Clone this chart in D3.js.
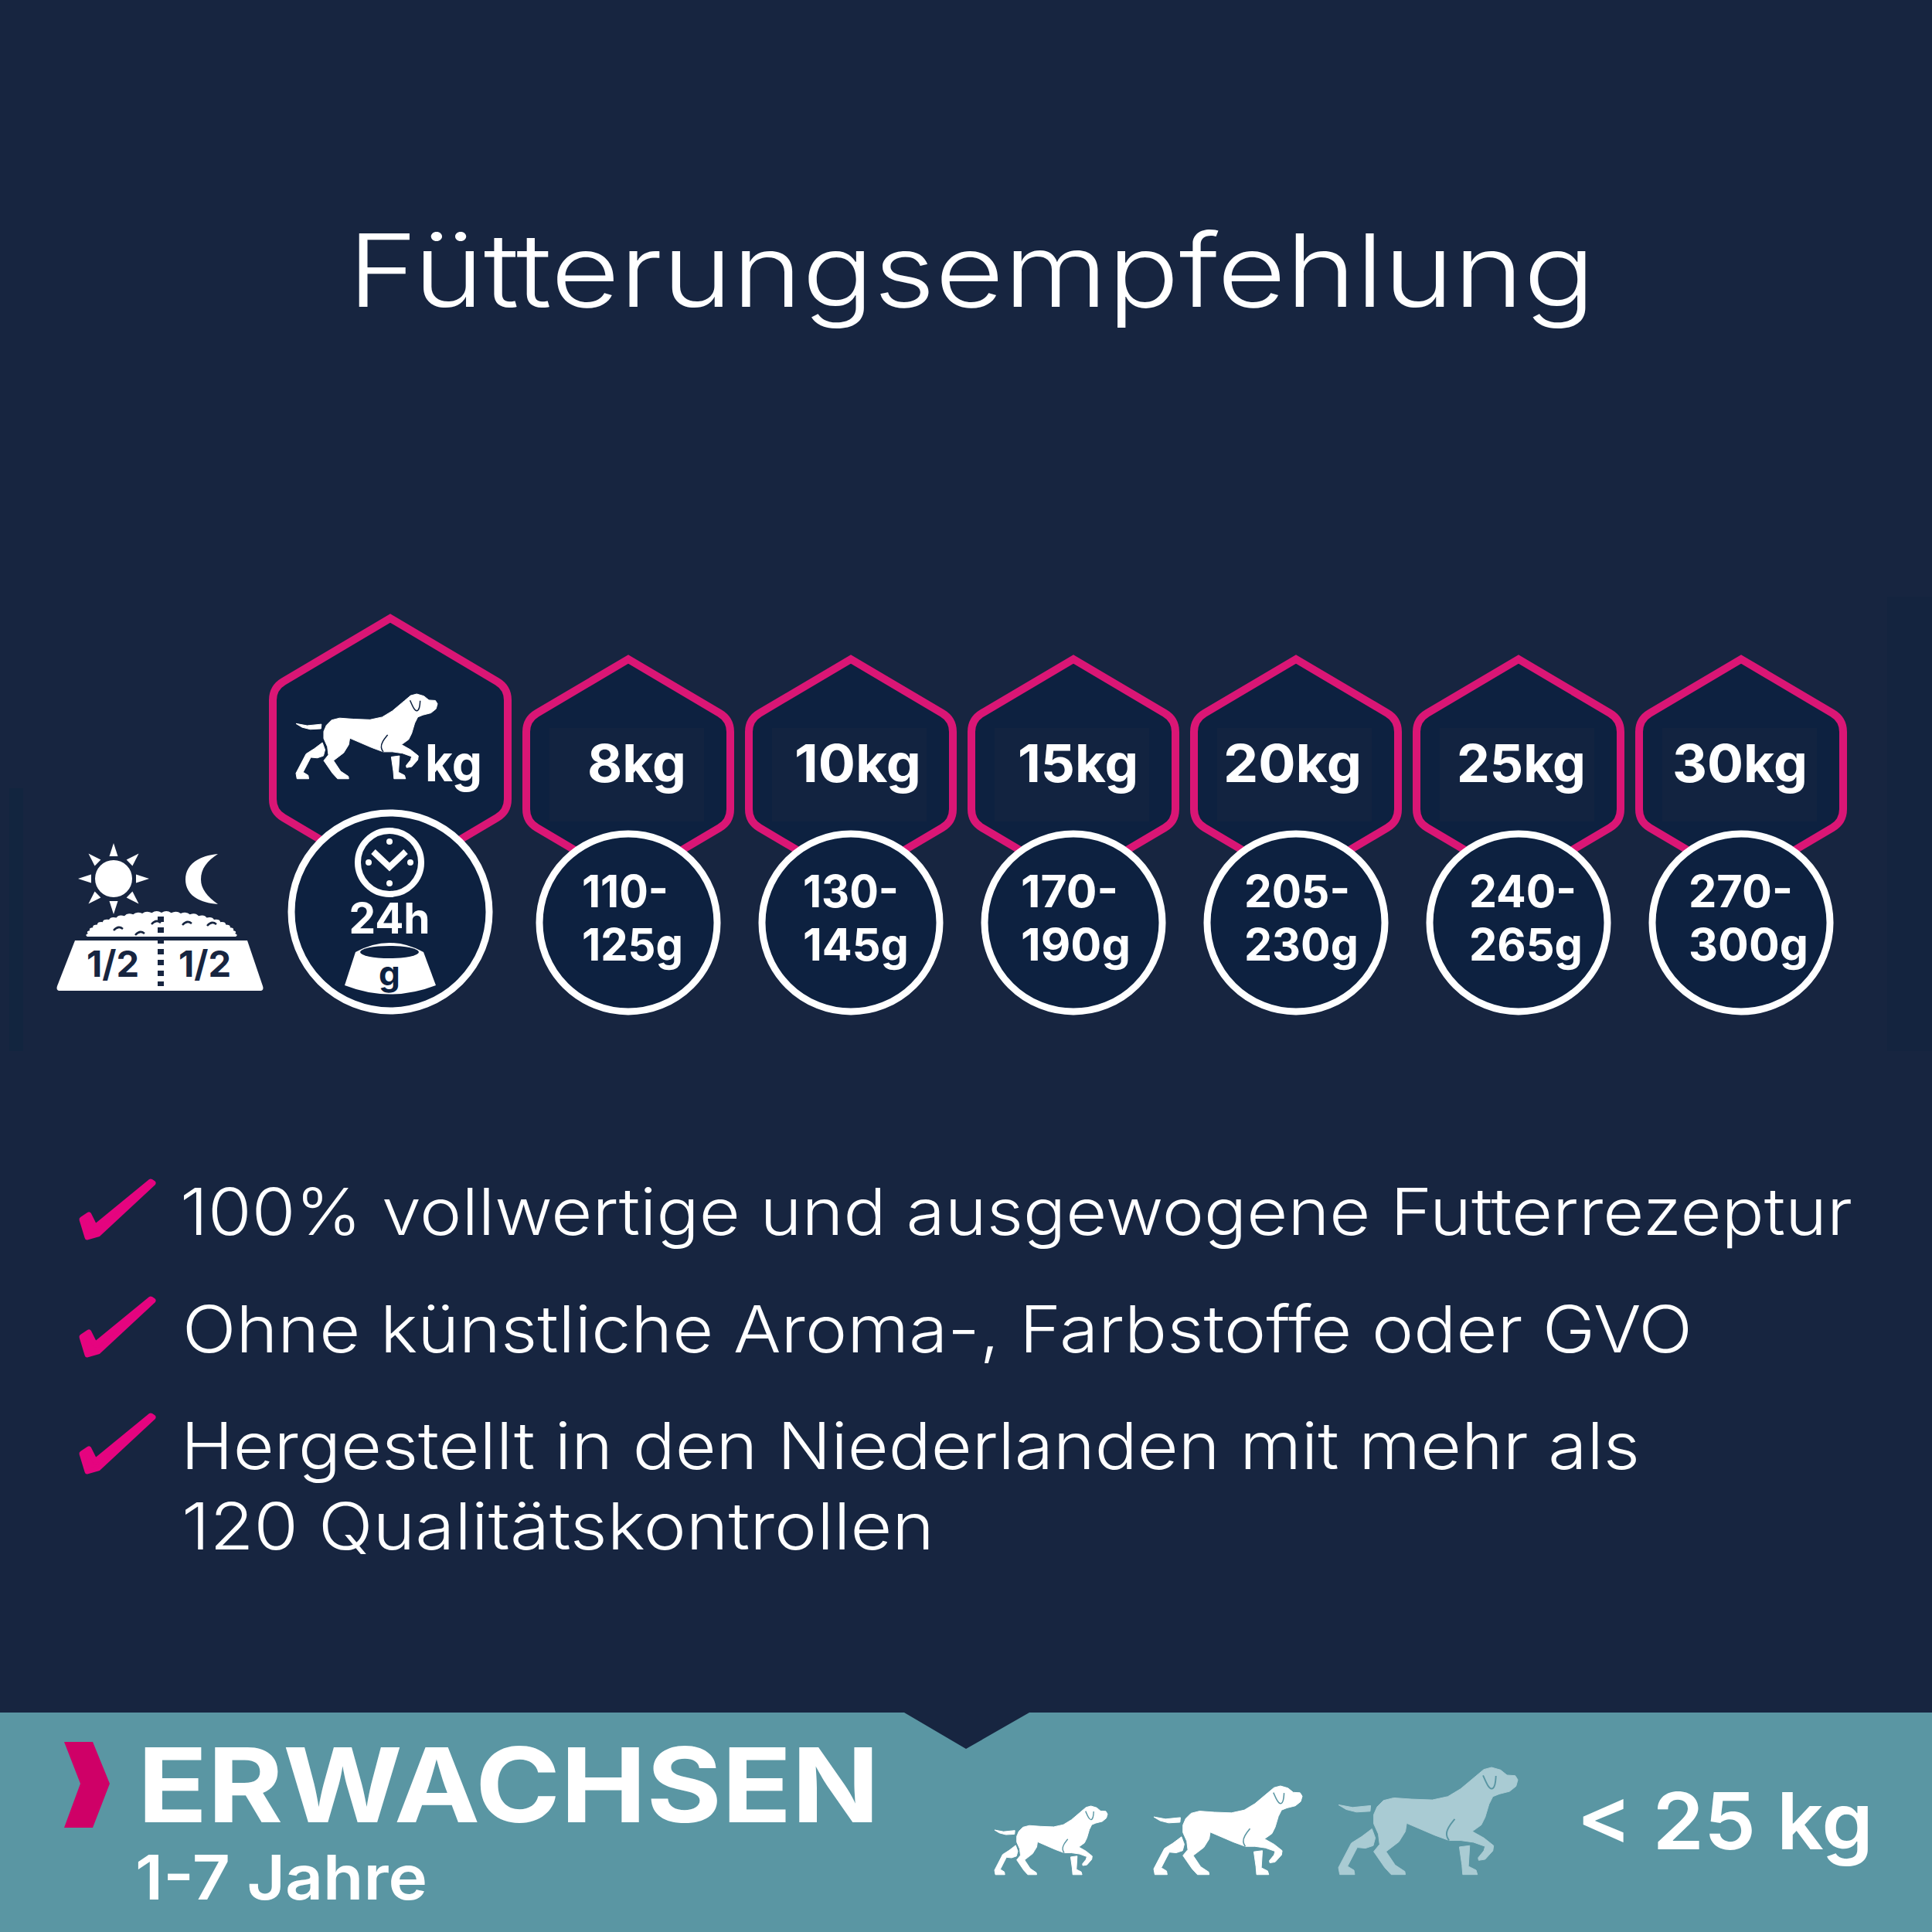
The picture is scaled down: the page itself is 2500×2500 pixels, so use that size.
<!DOCTYPE html>
<html><head><meta charset="utf-8">
<style>html,body{margin:0;padding:0;background:#172540}svg{display:block}</style>
<script src="https://cdn.jsdelivr.net/npm/d3@7/dist/d3.min.js"></script>
</head><body><svg id="c" width="2500" height="2500"></svg>
<script>
const titleText = "Fütterungsempfehlung";
const weights = ["8kg","10kg","15kg","20kg","25kg","30kg"];
const portionsTop = ["110-","130-","170-","205-","240-","270-"];
const portionsBottom = ["125g","145g","190g","230g","265g","300g"];
const benefitLines = ["100% vollwertige und ausgewogene Futterrezeptur","Ohne künstliche Aroma-, Farbstoffe oder GVO","Hergestellt in den Niederlanden mit mehr als","120 Qualitätskontrollen"];
const stageName = "ERWACHSEN";
const stageAge = "1-7 Jahre";
const sizeLimit = "< 25 kg";

const BG="#172540", NAVY="#0d2140", PINK="#da1675", CHECK="#e5047f", TEAL="#5a96a3", PALE="#a9cbd3", WHITE="#ffffff";
const SANS="Inter, 'Noto Sans', sans-serif";
const svg=d3.select("#c");
svg.append("rect").attr("width",2500).attr("height",2500).attr("fill",BG);
svg.append("rect").attr("x",12).attr("y",1020).attr("width",18).attr("height",340).attr("fill","#12253f");
svg.append("rect").attr("x",2442).attr("y",772).attr("width",58).attr("height",588).attr("fill","#14243f");

function txt(s,x,y,size,weight,opts={}){
  const t=svg.append("text").text(s).attr("x",x).attr("y",y).attr("font-family",SANS)
   .attr("font-size",size).attr("font-weight",weight).attr("fill",opts.fill||WHITE)
   .attr("text-anchor",opts.anchor||"start");
  if(opts.len){t.attr("textLength",opts.len).attr("lengthAdjust","spacingAndGlyphs");}
  return t;
}
txt(titleText,450,397,131,300,{len:1614});

function hexPath(cx,top,hw,sy,by,bottom,r){
  const p=d3.path();
  const sl=(sy-top)/hw, n=Math.hypot(1,sl), dx=r/n, dy=r*sl/n;
  p.moveTo(cx,top);
  p.lineTo(cx+hw-dx,sy-dy); p.quadraticCurveTo(cx+hw,sy,cx+hw,sy+r);
  p.lineTo(cx+hw,by-r); p.quadraticCurveTo(cx+hw,by,cx+hw-dx,by+dy);
  p.lineTo(cx,bottom);
  p.lineTo(cx-hw+dx,by+dy); p.quadraticCurveTo(cx-hw,by,cx-hw,by-r);
  p.lineTo(cx-hw,sy+r); p.quadraticCurveTo(cx-hw,sy,cx-hw+dx,sy-dy);
  p.closePath();
  return p.toString();
}
function hex(cx,top,hw,sy,by,bottom){
  svg.append("path").attr("d",hexPath(cx,top,hw,sy,by,bottom,16)).attr("fill",NAVY)
    .attr("stroke",PINK).attr("stroke-width",10).attr("stroke-linejoin","miter");
}
function ring(cx,cy,r){
  svg.append("circle").attr("cx",cx).attr("cy",cy).attr("r",r).attr("fill",NAVY).attr("stroke",WHITE).attr("stroke-width",9);
}

const xWeight=d3.scalePoint().domain(weights).range([813,2253]);
const weightStart=[-53,-73,-72,-94,-80,-89], weightLen=[128,164,156,179,167,175];
const portionStart=[-60,-62,-68,-67,-64,-68], topLen=[112,124,126,137,139,135], botLen=[131,137,142,148,147,155];
weights.forEach((w,i)=>{
  const cx=xWeight(w);
  hex(cx,853,132,931,1063,1141);
  svg.append("rect").attr("x",cx-102).attr("y",942).attr("width",200).attr("height",121).attr("fill","#122340");
  ring(cx,1194,115);
  txt(w,cx+weightStart[i],1012,68,700,{len:weightLen[i]});
  txt(portionsTop[i],cx+portionStart[i],1174,58,700,{len:topLen[i]});
  txt(portionsBottom[i],cx+portionStart[i],1243,58,700,{len:botLen[i]});
});

hex(505,800,152,890,1050,1140);
ring(505,1180,128);

// dog silhouette, in its own drawing units
const dogBody=[[630,52],[665,62],[690,82],[722,84],[732,100],[725,125],[700,145],[660,155],[635,165],[620,195],[605,245],[590,275],[555,300],[600,325],[638,355],[635,375],[605,408],[580,412],[578,402],[600,375],[605,358],[560,342],[510,335],[465,335],[410,315],[300,268],[295,300],[270,340],[220,378],[255,430],[293,455],[295,467],[240,467],[215,440],[172,378],[195,350],[190,310],[172,270],[172,235],[185,205],[210,180],[250,170],[320,175],[400,178],[460,165],[510,135],[570,85],[600,60]];
const dogRear=[[165,290],[178,325],[170,355],[140,365],[108,362],[70,435],[95,450],[98,467],[40,467],[35,440],[85,345],[125,320]];
const dogFront=[[505,360],[545,355],[540,435],[570,450],[575,467],[518,467],[515,430]];
const dogTail=[[35,197],[90,207],[160,200],[158,222],[105,225],[65,215]];
const dogEar=[[597,83],[615,125],[632,140],[645,120],[647,85]];
const dogCrease=[[487,252],[460,285],[452,315],[465,335]];
function dog(x0,x1,y0,y1,fill,detail){
  const sx=d3.scaleLinear().domain([35,732]).range([x0,x1]);
  const sy=d3.scaleLinear().domain([52,468]).range([y0,y1]);
  const poly=d3.line().x(d=>sx(d[0])).y(d=>sy(d[1])).curve(d3.curveLinearClosed);
  const open=d3.line().x(d=>sx(d[0])).y(d=>sy(d[1])).curve(d3.curveBasis);
  [dogBody,dogRear,dogFront,dogTail].forEach(part=>
    svg.append("path").attr("d",poly(part)).attr("fill",fill).attr("stroke",fill).attr("stroke-width",1).attr("stroke-linejoin","round"));
  [dogEar,dogCrease].forEach(part=>
    svg.append("path").attr("d",open(part)).attr("fill","none").attr("stroke",detail).attr("stroke-width",Math.max(1.4,(x1-x0)/120)));
}
dog(383,566,898,1008,WHITE,NAVY);
txt("kg",550,1011,66,700,{len:74});

// clock, 24h, bowl inside header ring
svg.append("circle").attr("cx",504).attr("cy",1116).attr("r",41).attr("fill",NAVY).attr("stroke",WHITE).attr("stroke-width",8);
svg.append("path").attr("d","M483,1102L504,1122L525,1102").attr("fill","none").attr("stroke",WHITE).attr("stroke-width",8);
[[504,1089],[504,1143],[477,1116],[531,1116]].forEach(d=>svg.append("circle").attr("cx",d[0]).attr("cy",d[1]).attr("r",4).attr("fill",WHITE));
txt("24h",504,1208,55,700,{anchor:"middle"});
svg.append("path").attr("d","M460,1232Q504,1208 548,1232L564,1275Q505,1298 446,1275Z").attr("fill",WHITE);
svg.append("ellipse").attr("cx",504).attr("cy",1232).attr("rx",38).attr("ry",8).attr("fill",NAVY);
txt("g",504,1275,44,700,{anchor:"middle",fill:NAVY});

// day / night bowl icon
svg.append("circle").attr("cx",147).attr("cy",1137).attr("r",24).attr("fill",WHITE);
d3.range(8).forEach(k=>{
  const a=k*Math.PI/4, c=Math.cos(a), s=Math.sin(a), b=29, tip=46, hw=5.5;
  svg.append("path").attr("d",`M${147+c*b-s*hw},${1137+s*b+c*hw}L${147+c*tip},${1137+s*tip}L${147+c*b+s*hw},${1137+s*b-c*hw}Z`).attr("fill",WHITE);
});
svg.append("path").attr("d","M282,1105C252,1108 240,1122 240,1138C240,1154 252,1168 282,1170C268,1160 260,1150 260,1138C260,1124 268,1114 282,1105Z").attr("fill",WHITE);
// scalloped kibble dome
const domeAngles=d3.range(0,25).map(k=>Math.PI*k/24);
const dome=d3.path();
dome.moveTo(113,1212);
domeAngles.forEach((a,k)=>{
  if(k===0) return;
  const x=209-96*Math.cos(a), y=1212-31*Math.sin(a);
  const pa=domeAngles[k-1], mx=209-100*Math.cos((a+pa)/2), my=1212-35*Math.sin((a+pa)/2);
  dome.quadraticCurveTo(mx,my,x,y);
});
dome.closePath();
svg.append("path").attr("d",dome.toString()).attr("fill",WHITE);
[[147,1204],[175,1210],[196,1196],[236,1197],[268,1198]].forEach(d=>svg.append("path").attr("d",`M${d[0]},${d[1]}q6,-7 12,-2`).attr("fill","none").attr("stroke",BG).attr("stroke-width",2.5));
svg.append("path").attr("d","M97,1217L320,1217L340,1276Q342,1282 336,1282L78,1282Q72,1282 74,1276Z").attr("fill",WHITE);
svg.append("line").attr("x1",208).attr("x2",208).attr("y1",1186).attr("y2",1276).attr("stroke",BG).attr("stroke-width",8).attr("stroke-dasharray","7 7");
txt("1/2",146,1264,47,700,{anchor:"middle",fill:BG});
txt("1/2",265,1264,47,700,{anchor:"middle",fill:BG});

// checkmarks + text
const checkPts=[[113,1601],[106,1578],[115,1572],[123,1588],[195,1529],[198,1531],[127,1597]];
const rowOffsets=[0,152,303];
rowOffsets.forEach(dy=>{
  svg.append("path").attr("d",d3.line().curve(d3.curveLinearClosed)(checkPts.map(p=>[p[0],p[1]+dy])))
    .attr("fill",CHECK).attr("stroke",CHECK).attr("stroke-width",7).attr("stroke-linejoin","round");
});
const rowX=[233,236,234,235], rowBase=[1598,1750,1901,2005], rowLen=[2164,1954,1888,974];
benefitLines.forEach((s,i)=>txt(s,rowX[i],rowBase[i],84,300,{len:rowLen[i]}));

// bottom band
svg.append("path").attr("d","M0,2216L1170,2216L1250,2263L1332,2216L2500,2216L2500,2500L0,2500Z").attr("fill",TEAL);
svg.append("path").attr("d","M83,2254L120,2254L142,2308L120,2365L83,2365L104,2308Z").attr("fill","#cf0067");
txt(stageName,178,2358,134,700,{len:960});
txt(stageAge,175,2458,80,600,{len:378});
dog(1287,1433,2337,2426,WHITE,TEAL);
dog(1493,1685,2311,2426,WHITE,TEAL);
dog(1732,1964,2287,2426,PALE,TEAL);
txt(sizeLimit,2040,2393,102,600,{len:384});
</script></body></html>
